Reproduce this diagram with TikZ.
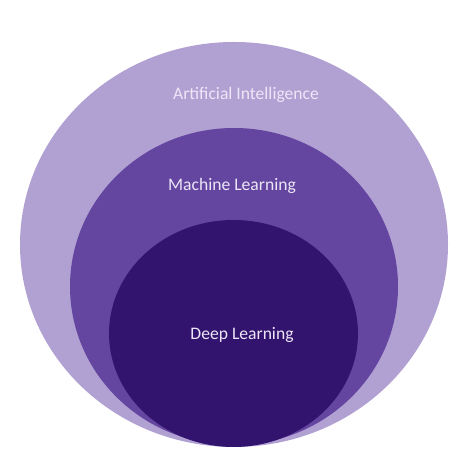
\documentclass[tikz,border=0pt]{standalone}
\usepackage{fontspec}
\setmainfont{Carlito}
\definecolor{aicol}{HTML}{B1A1D3}
\definecolor{mlcol}{HTML}{6446A0}
\definecolor{dlcol}{HTML}{32146E}
\definecolor{txtcol}{HTML}{ECE6F7}
\begin{document}
\begin{tikzpicture}[x=1pt,y=1pt,
  lbl/.style={text=txtcol,font=\fontsize{17.6}{20}\selectfont,inner sep=0pt}]
\useasboundingbox[fill=white] (0,0) rectangle (470,470);
\fill[aicol] (234,225.5) ellipse [x radius=214, y radius=202.5];
\fill[mlcol] (234,183.5) ellipse [x radius=164, y radius=158.5];
\fill[dlcol] (233.5,136.5) ellipse [x radius=124.5, y radius=113.5];
\node[lbl] (ai) at (246,375) {Artificial Intelligence};
\node[lbl] (ml) at (232,284) {Machine Learning};
\node[lbl] (dl) at (242,135) {Deep Learning};
\end{tikzpicture}
\end{document}
